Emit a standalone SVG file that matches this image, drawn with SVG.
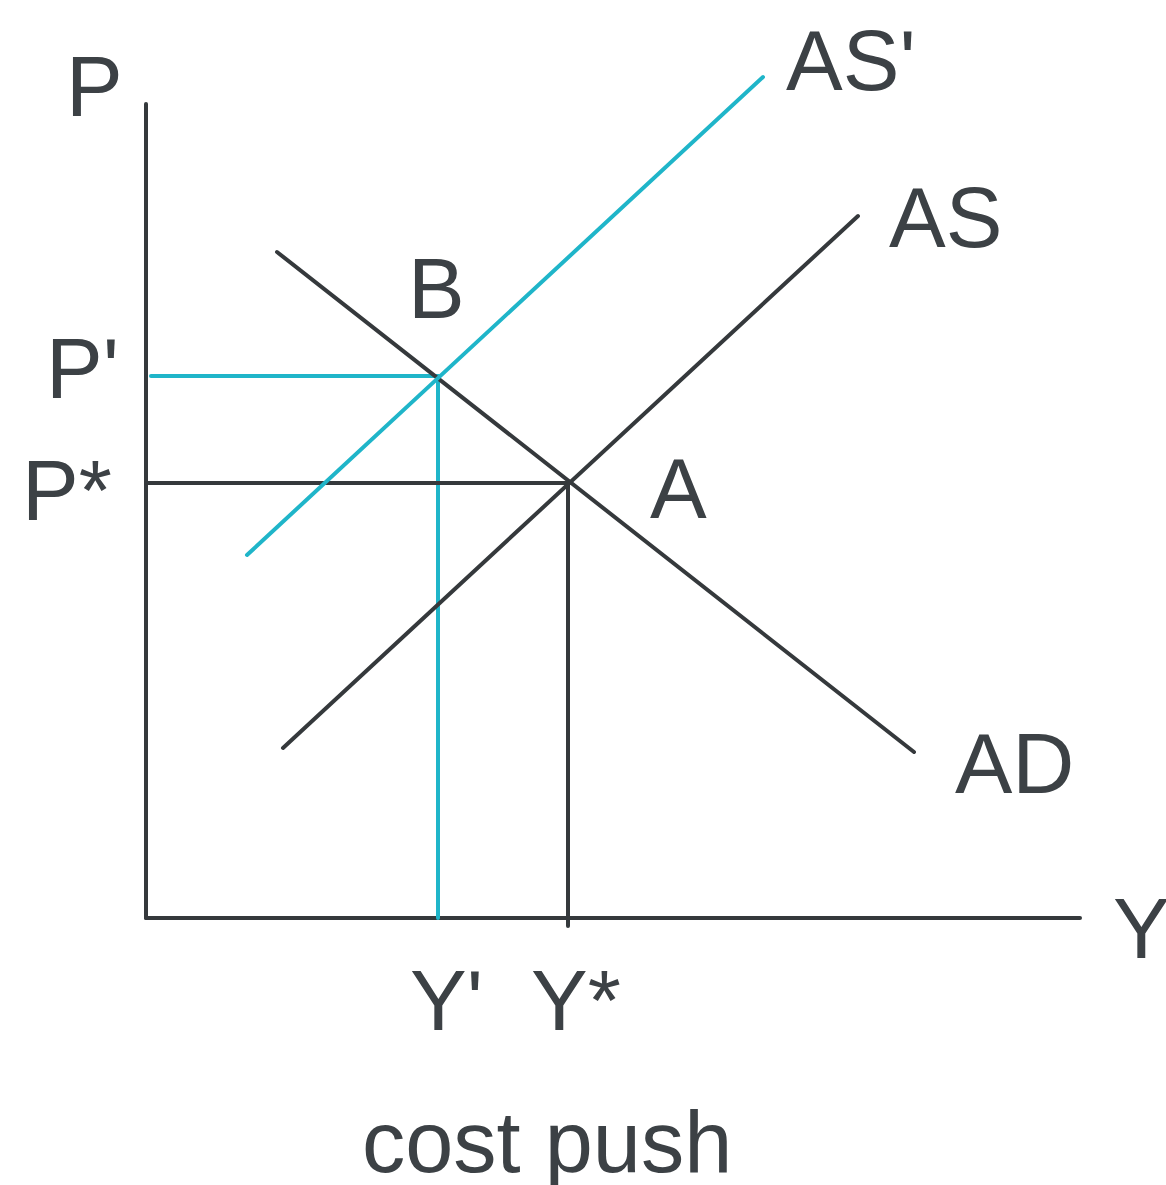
<svg xmlns="http://www.w3.org/2000/svg" width="1166" height="1185" viewBox="0 0 1166 1185">
<style>
.k{stroke:#35393c;stroke-width:4;fill:none;stroke-linecap:round}
.c{stroke:#1fb5c9;stroke-width:4;fill:none;stroke-linecap:round}
text{font-family:"Liberation Sans",Arial,sans-serif;font-size:85px;fill:#3c4145}
</style>
<rect width="1166" height="1185" fill="#fff"/>
<g id="connectors">
<line class="k" x1="146" y1="104" x2="146" y2="918"/>
<line class="k" x1="146" y1="918" x2="1080" y2="918"/>
<line class="c" x1="151" y1="376" x2="438" y2="376"/>
<line class="c" x1="438" y1="376" x2="438" y2="918"/>
<line class="k" x1="146" y1="483" x2="568" y2="483"/>
<line class="k" x1="568" y1="483" x2="568" y2="926"/>
<line class="k" x1="277" y1="252" x2="914" y2="752"/>
<line class="k" x1="283" y1="748" x2="858" y2="216"/>
<line class="c" x1="247" y1="555" x2="763" y2="77"/>
</g>
<g id="labels">
<text x="66" y="116">P</text>
<text x="786" y="90">AS'</text>
<text x="889" y="247">AS</text>
<text x="955" y="793" style="font-size:86px">AD</text>
<text x="1113" y="958">Y</text>
<text x="408" y="318">B</text>
<text x="46" y="398">P'</text>
<text x="22" y="520">P*</text>
<text x="650" y="518">A</text>
<text x="410" y="1030">Y'</text>
<text x="531" y="1030">Y*</text>
<text x="362" y="1172" style="font-size:86.5px">cost push</text>
</g>
</svg>
